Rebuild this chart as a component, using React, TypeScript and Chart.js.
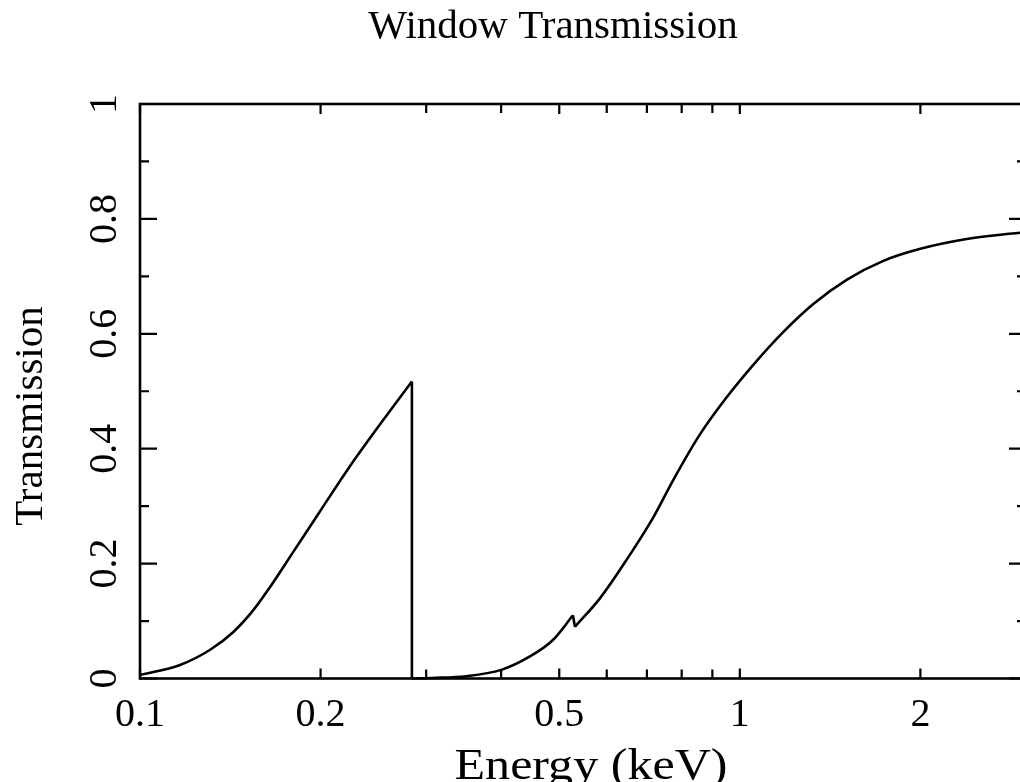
import React, { useEffect, useRef } from "react";
import { Chart, registerables } from "chart.js";

Chart.register(...registerables);

const chartTitle = "Window Transmission";
const xAxisLabel = "Energy (keV)";
const yAxisLabel = "Transmission";

const xRange = [0.1, 3];
const yRange = [0, 1];
const xMajorTicks = [0.1, 0.2, 0.5, 1, 2];
const xMajorLabels = ["0.1", "0.2", "0.5", "1", "2"];
const xMinorTicks = [0.3, 0.4, 0.6, 0.7, 0.8, 0.9, 3];
const yMajorTicks = [0, 0.2, 0.4, 0.6, 0.8, 1];
const yMajorLabels = ["0", "0.2", "0.4", "0.6", "0.8", "1"];
const yMinorTicks = [0.1, 0.3, 0.5, 0.7, 0.9];

// below the carbon edge
const lowEnergy = [0.1, 0.1166, 0.1309, 0.1431, 0.1545, 0.1647, 0.18, 0.199, 0.223, 0.254, 0.284];
const lowTrans = [0.006, 0.0235, 0.05, 0.081, 0.119, 0.159, 0.22, 0.289, 0.367, 0.449, 0.517];
// carbon K edge drop
const cEdgeEnergy = [0.284, 0.284];
const cEdgeTrans = [0.517, 0.0];
// between carbon and oxygen edges
const midEnergy = [0.284, 0.307, 0.35, 0.4, 0.446, 0.488, 0.527];
const midTrans = [0.0, 0.001, 0.004, 0.015, 0.038, 0.067, 0.11];
// oxygen K edge drop
const oEdgeEnergy = [0.527, 0.531];
const oEdgeTrans = [0.11, 0.09];
// above the oxygen edge
const highEnergy = [0.531, 0.584, 0.647, 0.717, 0.774, 0.857, 0.95, 1.053, 1.181, 1.326, 1.507, 1.735, 2.0, 2.39, 2.93, 3.0];
const highTrans = [0.09, 0.139, 0.206, 0.28, 0.345, 0.424, 0.489, 0.546, 0.603, 0.652, 0.694, 0.727, 0.748, 0.765, 0.776, 0.777];

const FONT = '"Liberation Serif", "Times New Roman", serif';

function toPoints(xs: number[], ys: number[]) {
  return xs.map((x, i) => ({ x, y: ys[i] }));
}

function seg(xs: number[], ys: number[], smooth: boolean) {
  return {
    data: toPoints(xs, ys),
    borderColor: "#000",
    borderWidth: 2.6,
    pointRadius: 0,
    tension: smooth ? 0.4 : 0,
    cubicInterpolationMode: smooth ? "monotone" : "default",
    fill: false,
    clip: 6,
  };
}

const framePlugin = {
  id: "framePlugin",
  afterDraw(chart: any) {
    const ctx = chart.ctx as CanvasRenderingContext2D;
    const { left, right, top, bottom } = chart.chartArea;
    const xs = chart.scales.x;
    const ys = chart.scales.y;
    ctx.save();
    ctx.strokeStyle = "#000";
    ctx.lineWidth = 2.6;
    ctx.strokeRect(left, top, right - left, bottom - top);
    ctx.lineWidth = 2.2;
    ctx.beginPath();
    const xTick = (v: number, len: number) => {
      const px = xs.getPixelForValue(v);
      ctx.moveTo(px, bottom);
      ctx.lineTo(px, bottom - len);
      ctx.moveTo(px, top);
      ctx.lineTo(px, top + len);
    };
    const yTick = (v: number, len: number) => {
      const py = ys.getPixelForValue(v);
      ctx.moveTo(left, py);
      ctx.lineTo(left + len, py);
      ctx.moveTo(right, py);
      ctx.lineTo(right - len, py);
    };
    xMajorTicks.forEach((v) => xTick(v, 10));
    xMinorTicks.forEach((v) => xTick(v, 9));
    yMajorTicks.forEach((v) => yTick(v, 17));
    yMinorTicks.forEach((v) => yTick(v, 9));
    ctx.stroke();

    ctx.fillStyle = "#000";
    // x tick labels
    ctx.font = `40px ${FONT}`;
    ctx.textAlign = "center";
    ctx.textBaseline = "alphabetic";
    xMajorTicks.forEach((v, i) => {
      ctx.fillText(xMajorLabels[i], xs.getPixelForValue(v), bottom + 47);
    });
    // y tick labels (rotated)
    yMajorTicks.forEach((v, i) => {
      ctx.save();
      ctx.translate(left - 24, ys.getPixelForValue(v));
      ctx.rotate(-Math.PI / 2);
      ctx.fillText(yMajorLabels[i], 0, 0);
      ctx.restore();
    });
    // title
    ctx.font = `41px ${FONT}`;
    ctx.fillText(chartTitle, 553, 38);
    // y axis label
    ctx.save();
    ctx.translate(42, 416);
    ctx.rotate(-Math.PI / 2);
    ctx.fillText(yAxisLabel, 0, 0);
    ctx.restore();
    // x axis label (wide lettering as in the reference)
    ctx.font = `44px ${FONT}`;
    const w = ctx.measureText(xAxisLabel).width;
    const sx = 273 / w;
    ctx.save();
    ctx.translate(591, 779);
    ctx.scale(sx, 1);
    ctx.fillText(xAxisLabel, 0, 0);
    ctx.restore();
    ctx.restore();
  },
};

export default function App() {
  const ref = useRef<HTMLCanvasElement | null>(null);
  useEffect(() => {
    if (!ref.current) return;
    const chart = new Chart(ref.current, {
      type: "line",
      data: {
        datasets: [
          seg(lowEnergy, lowTrans, true),
          seg(cEdgeEnergy, cEdgeTrans, false),
          seg(midEnergy, midTrans, true),
          seg(oEdgeEnergy, oEdgeTrans, false),
          seg(highEnergy, highTrans, true),
        ] as any,
      },
      options: {
        responsive: false,
        animation: false,
        devicePixelRatio: 1,
        layout: { padding: { left: 140, top: 104, right: 14, bottom: 103.5 } },
        scales: {
          x: { type: "logarithmic", min: xRange[0], max: xRange[1], display: false },
          y: { type: "linear", min: yRange[0], max: yRange[1], display: false },
        },
        plugins: {
          legend: { display: false },
          tooltip: { enabled: false },
          title: { display: false },
        },
        events: [],
      },
      plugins: [framePlugin],
    });
    return () => chart.destroy();
  }, []);
  return (
    <div
      style={{
        position: "absolute",
        left: 0,
        top: 0,
        width: 1020,
        height: 782,
        overflow: "hidden",
        background: "#fff",
      }}
    >
      <canvas ref={ref} width={1040} height={782} style={{ display: "block" }} />
    </div>
  );
}
